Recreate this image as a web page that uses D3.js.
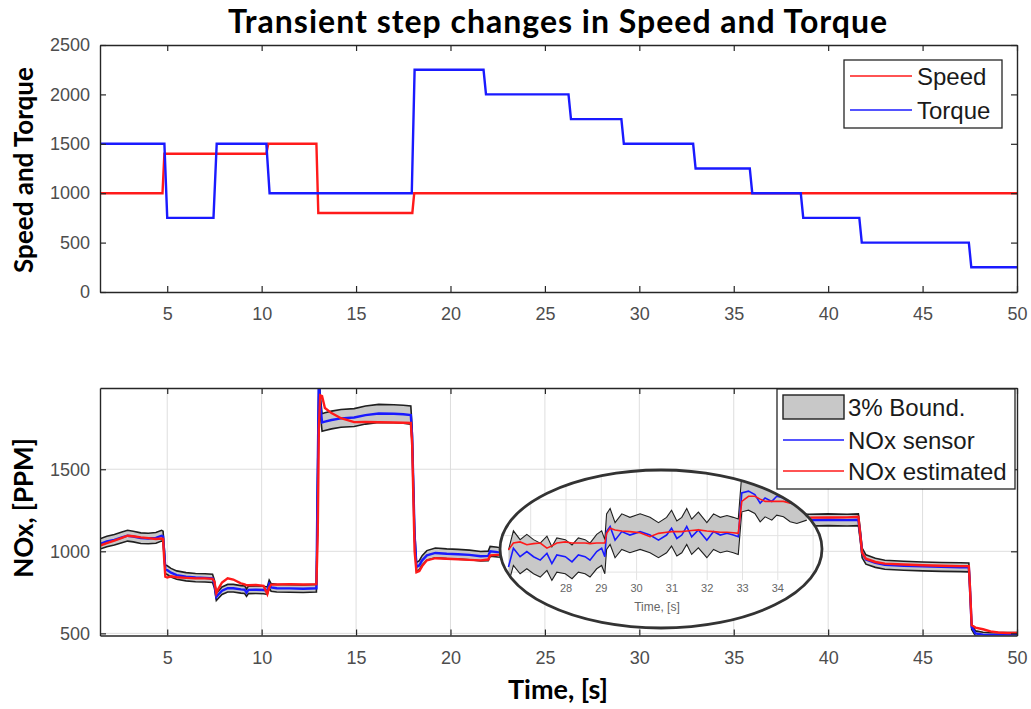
<!DOCTYPE html>
<html>
<head>
<meta charset="utf-8">
<script src="https://cdn.jsdelivr.net/npm/d3@7"></script>
<style>
  html, body { margin: 0; padding: 0; background: #fff; }
  svg { display: block; }
  .tick text { font-family: "Liberation Sans", Arial, sans-serif; fill: #4d4d4d; }
</style>
</head>
<body>
<svg id="chart" width="1031" height="709"></svg>
<script>
// ---- Speed / torque set points (breakpoints of the step profile) ----
const speedTime  = [1.44, 4.75, 4.85, 10.25, 10.35, 12.9, 13.0, 17.98, 18.08, 50];
const speedValue = [1000, 1000, 1400, 1400, 1500, 1500, 800, 800, 1000, 1000];

const torqueTime  = [1.44, 4.85, 5.0, 7.45, 7.62, 10.25, 10.42, 17.95, 18.1, 21.75, 21.88,
                     26.25, 26.38, 29.05, 29.18, 32.85, 32.98, 35.85, 35.98, 38.55, 38.68,
                     41.65, 41.78, 47.45, 47.58, 50];
const torqueValue = [1500, 1500, 750, 750, 1500, 1500, 1000, 1000, 2250, 2250, 2000,
                     2000, 1750, 1750, 1500, 1500, 1250, 1250, 1000, 1000, 750,
                     750, 500, 500, 250, 250];

// ---- NOx: sensor reading and model estimate [PPM] ----
const noxTime = [1.44, 1.8, 2.2, 2.6, 2.9, 3.2, 3.6, 4.0, 4.4, 4.7, 4.78, 4.85, 4.9, 5.0, 5.2, 5.5,
  6.0, 6.5, 7.0, 7.4, 7.5, 7.6, 7.7, 7.9, 8.2, 8.5, 8.9, 9.1, 9.2, 9.3, 9.7, 10.1, 10.3, 10.4,
  10.5, 10.8, 11.5, 12.2, 12.9, 12.97, 13.03, 13.1, 13.2, 13.35, 13.7, 14.2, 14.9, 15.5, 16.2,
  17.0, 17.5, 17.9, 17.97, 18.1, 18.2, 18.35, 18.5, 18.75, 19.2, 19.8, 20.4, 21.0, 21.6, 22.0,
  22.1, 22.5, 23.0, 24.0, 25.0, 26.0, 27.0, 28.0, 29.0, 29.15, 30.0, 31.0, 32.0, 32.9, 33.0,
  34.0, 35.0, 35.85, 36.0, 37.0, 38.0, 39.0, 40.0, 41.0, 41.6, 41.7, 41.8, 42.0, 42.5, 43.0,
  44.0, 45.0, 46.0, 47.0, 47.45, 47.5, 47.6, 47.8, 48.2, 48.6, 49.0, 49.5, 50];
const noxSensor = [1045, 1060, 1070, 1085, 1095, 1090, 1080, 1078, 1082, 1095, 1090, 980, 890, 885,
  870, 855, 845, 840, 838, 835, 800, 722, 735, 760, 775, 775, 768, 766, 748, 765, 766, 764, 760,
  800, 780, 775, 774, 772, 775, 1500, 2050, 1900, 1785, 1790, 1800, 1810, 1815, 1830, 1840, 1838,
  1835, 1830, 1700, 1100, 905, 915, 945, 975, 990, 985, 982, 978, 970, 972, 1000, 995, 992, 990,
  988, 985, 990, 985, 990, 1040, 1045, 1045, 1040, 1040, 1140, 1145, 1140, 1145, 1190, 1195,
  1192, 1190, 1192, 1190, 1192, 1100, 990, 950, 930, 918, 912, 908, 905, 903, 902, 800, 540,
  500, 492, 490, 490, 490, 490];
const noxEstimated = [1035, 1050, 1065, 1082, 1095, 1092, 1085, 1080, 1075, 1078, 1075, 930, 845,
  840, 848, 842, 838, 835, 835, 832, 815, 745, 770, 810, 835, 828, 805, 798, 793, 793, 795, 790,
  740, 780, 797, 798, 800, 798, 800, 1100, 1750, 1950, 1945, 1873, 1842, 1811, 1787, 1788, 1786,
  1785, 1783, 1782, 1650, 1000, 872, 880, 910, 945, 958, 955, 952, 948, 945, 950, 975, 978, 980,
  985, 990, 995, 1000, 1005, 1005, 1045, 1050, 1050, 1048, 1045, 1130, 1135, 1135, 1140, 1195,
  1200, 1202, 1205, 1206, 1207, 1210, 1100, 990, 955, 935, 925, 920, 915, 912, 910, 910, 800,
  550, 535, 525, 512, 505, 502, 503];
const boundFraction = 0.03;   // ±3 % band around the sensor

// ---- Close-up window 26.4 s – 34.8 s ----
const zoomTime = [26.37, 26.51, 26.7, 26.89, 27.08, 27.27, 27.46, 27.6, 27.74, 27.98, 28.17, 28.35,
  28.54, 28.68, 28.87, 29.01, 29.1, 29.15, 29.25, 29.39, 29.58, 29.81, 30.1, 30.38, 30.62, 30.85,
  30.99, 31.14, 31.28, 31.42, 31.56, 31.75, 31.99, 32.18, 32.37, 32.56, 32.74, 32.88, 32.98, 33.17,
  33.35, 33.5, 33.64, 33.83, 33.97, 34.16, 34.35, 34.54, 34.82];
const zoomSensor = [979, 1012, 997, 1006, 997, 991, 1003, 985, 1000, 997, 988, 1000, 997, 991, 1006,
  1012, 997, 1041, 1050, 1026, 1041, 1035, 1041, 1035, 1026, 1035, 1047, 1029, 1035, 1050, 1032,
  1044, 1026, 1041, 1035, 1038, 1035, 1032, 1109, 1112, 1106, 1091, 1100, 1094, 1103, 1100, 1091,
  1088, 1094];
const zoomEstimated = [1009, 1021, 1023, 1018, 1020, 1021, 1012, 1016, 1021, 1023, 1021, 1021, 1021,
  1020, 1021, 1021, 1021, 1038, 1047, 1044, 1042, 1041, 1039, 1032, 1038, 1040, 1041, 1041, 1041,
  1042, 1043, 1044, 1042, 1041, 1040, 1040, 1039, 1038, 1094, 1103, 1103, 1098, 1094, 1094, 1094,
  1094, 1091, 1091, 1091];
const zoomTicks = [28, 29, 30, 31, 32, 33, 34];
const zoomGridTime = [27, 28, 29, 30, 31, 32, 33, 34, 35];
const zoomGridPpm = [970, 1034, 1097];

// ---- Axis ticks ----
const timeTicks = [5, 10, 15, 20, 25, 30, 35, 40, 45, 50];
const speedTorqueTicks = [0, 500, 1000, 1500, 2000, 2500];
const noxTicks = [500, 1000, 1500];

const svg = d3.select("#chart");
const axisColor = "#262626";
const sans = '"Liberation Sans", Arial, sans-serif';
const labelFont = 'Lato, "Open Sans", sans-serif';
const fmt = d3.format("d");

// layout of the two panels
const left = 100, right = 1017;
const top1 = 45, bottom1 = 292;
const top2 = 388, bottom2 = 635.5;

const x = d3.scaleLinear().domain([1.44, 50]).range([left, right]);
const y1 = d3.scaleLinear().domain([0, 2500]).range([bottom1, top1]);
const y2 = d3.scaleLinear().domain([487, 1995]).range([bottom2, top2]);

function styleAxis(g, fontSize) {
  g.select(".domain").attr("stroke", axisColor).attr("stroke-width", 1.4);
  g.selectAll(".tick line").attr("stroke", axisColor).attr("stroke-width", 1.2);
  g.selectAll(".tick text").attr("font-size", fontSize).attr("font-family", sans);
}

// ================= Panel 1: speed and torque =================
const p1 = svg.append("g");
p1.append("defs").append("clipPath").attr("id", "clip1")
  .append("rect").attr("x", left).attr("y", top1).attr("width", right - left).attr("height", bottom1 - top1);

const lineGen = (xs, ys, yScale) => d3.line()
  .x((d, i) => x(xs[i])).y((d, i) => yScale(ys[i]))(xs);

const plot1 = p1.append("g").attr("clip-path", "url(#clip1)");
plot1.append("path").attr("d", lineGen(speedTime, speedValue, y1))
  .attr("fill", "none").attr("stroke", "#ff1a1a").attr("stroke-width", 2.4);
plot1.append("path").attr("d", lineGen(torqueTime, torqueValue, y1))
  .attr("fill", "none").attr("stroke", "#1a1aff").attr("stroke-width", 2.4);

// box with inward ticks
p1.append("g").attr("transform", `translate(0,${bottom1})`)
  .call(d3.axisBottom(x).tickValues(timeTicks).tickFormat(fmt).tickSize(-6).tickPadding(15).tickSizeOuter(0))
  .call(g => styleAxis(g, 18));
p1.append("g").attr("transform", `translate(0,${top1})`)
  .call(d3.axisTop(x).tickValues(timeTicks).tickSize(-6).tickFormat("").tickSizeOuter(0))
  .call(g => styleAxis(g, 18));
p1.append("g").attr("transform", `translate(${left},0)`)
  .call(d3.axisLeft(y1).tickValues(speedTorqueTicks).tickFormat(fmt).tickSize(-6).tickPadding(10).tickSizeOuter(0))
  .call(g => styleAxis(g, 18));
p1.append("g").attr("transform", `translate(${right},0)`)
  .call(d3.axisRight(y1).tickValues(speedTorqueTicks).tickSize(-6).tickFormat("").tickSizeOuter(0))
  .call(g => styleAxis(g, 18));

// legend
const leg1 = p1.append("g").attr("transform", "translate(844,60)");
leg1.append("rect").attr("width", 158).attr("height", 68)
  .attr("fill", "#fff").attr("stroke", axisColor).attr("stroke-width", 1.3);
[["Speed", "#ff1a1a", 16], ["Torque", "#1a1aff", 50]].forEach(([name, col, yy]) => {
  leg1.append("line").attr("x1", 6).attr("x2", 68).attr("y1", yy).attr("y2", yy)
    .attr("stroke", col).attr("stroke-width", 1.6);
  leg1.append("text").attr("x", 73).attr("y", yy + 9).text(name)
    .attr("font-family", sans).attr("font-size", 24).attr("fill", "#1a1a1a");
});

// ================= Panel 2: NOx =================
const p2 = svg.append("g");
p2.append("defs").append("clipPath").attr("id", "clip2")
  .append("rect").attr("x", left).attr("y", top2).attr("width", right - left).attr("height", bottom2 - top2);

// grid
const grid = p2.append("g");
timeTicks.filter(t => t < 50).forEach(t => grid.append("line")
  .attr("x1", x(t)).attr("x2", x(t)).attr("y1", top2).attr("y2", bottom2)
  .attr("stroke", "#dedede").attr("stroke-width", 1));
noxTicks.forEach(v => grid.append("line")
  .attr("x1", left).attr("x2", right).attr("y1", y2(v)).attr("y2", y2(v))
  .attr("stroke", "#dedede").attr("stroke-width", 1));

function drawNox(g, xs, sensor, est, xScale, yScale, w) {
  const upper = sensor.map(v => v * (1 + boundFraction));
  const lower = sensor.map(v => v * (1 - boundFraction));
  const area = d3.area()
    .x((d, i) => xScale(xs[i])).y0((d, i) => yScale(lower[i])).y1((d, i) => yScale(upper[i]));
  const ln = arr => d3.line().x((d, i) => xScale(xs[i])).y((d, i) => yScale(arr[i]))(xs);
  g.append("path").attr("d", area(xs)).attr("fill", "#c8c8c8");
  g.append("path").attr("d", ln(upper)).attr("fill", "none").attr("stroke", "#1f1f1f").attr("stroke-width", w.edge);
  g.append("path").attr("d", ln(lower)).attr("fill", "none").attr("stroke", "#1f1f1f").attr("stroke-width", w.edge);
  g.append("path").attr("d", ln(sensor)).attr("fill", "none").attr("stroke", "#1a1aff").attr("stroke-width", w.line);
  g.append("path").attr("d", ln(est)).attr("fill", "none").attr("stroke", "#ff1a1a").attr("stroke-width", w.line);
}

const plot2 = p2.append("g").attr("clip-path", "url(#clip2)");
drawNox(plot2, noxTime, noxSensor, noxEstimated, x, y2, { edge: 1.6, line: 2.4 });

p2.append("g").attr("transform", `translate(0,${bottom2})`)
  .call(d3.axisBottom(x).tickValues(timeTicks).tickFormat(fmt).tickSize(-6).tickPadding(16).tickSizeOuter(0))
  .call(g => styleAxis(g, 18));
p2.append("g").attr("transform", `translate(0,${top2})`)
  .call(d3.axisTop(x).tickValues(timeTicks).tickSize(-6).tickFormat("").tickSizeOuter(0))
  .call(g => styleAxis(g, 18));
p2.append("g").attr("transform", `translate(${left},0)`)
  .call(d3.axisLeft(y2).tickValues(noxTicks).tickFormat(fmt).tickSize(-6).tickPadding(10).tickSizeOuter(0))
  .call(g => styleAxis(g, 18));
p2.append("g").attr("transform", `translate(${right},0)`)
  .call(d3.axisRight(y2).tickValues(noxTicks).tickSize(-6).tickFormat("").tickSizeOuter(0))
  .call(g => styleAxis(g, 18));

// ---- elliptical close-up of 26–35 s ----
const ell = { cx: 661, cy: 549, rx: 161, ry: 79 };
const zx = d3.scaleLinear().domain([28, 34]).range([566, 777.8]);
const zy = d3.scaleLinear().domain([1000, 1100]).range([555, 498]);

p2.append("defs").append("clipPath").attr("id", "clipZoom")
  .append("ellipse").attr("cx", ell.cx).attr("cy", ell.cy).attr("rx", ell.rx).attr("ry", ell.ry);
const zg = p2.append("g").attr("clip-path", "url(#clipZoom)");
zg.append("rect").attr("x", ell.cx - ell.rx).attr("y", ell.cy - ell.ry)
  .attr("width", 2 * ell.rx).attr("height", 2 * ell.ry).attr("fill", "#fff");
zoomGridTime.forEach(t => zg.append("line").attr("x1", zx(t)).attr("x2", zx(t))
  .attr("y1", ell.cy - ell.ry).attr("y2", 580).attr("stroke", "#e3e3e3"));
zoomGridPpm.forEach(v => zg.append("line").attr("x1", ell.cx - ell.rx).attr("x2", ell.cx + ell.rx)
  .attr("y1", zy(v)).attr("y2", zy(v)).attr("stroke", "#e3e3e3"));
zoomTicks.forEach(t => zg.append("text").attr("x", zx(t)).attr("y", 592).text(t)
  .attr("text-anchor", "middle").attr("font-family", sans).attr("font-size", 11).attr("fill", "#666"));
zg.append("text").attr("x", 657).attr("y", 611).text("Time, [s]")
  .attr("text-anchor", "middle").attr("font-family", sans).attr("font-size", 12).attr("fill", "#666");
drawNox(zg, zoomTime, zoomSensor, zoomEstimated, zx, zy, { edge: 1.1, line: 1.6 });
p2.append("ellipse").attr("cx", ell.cx).attr("cy", ell.cy).attr("rx", ell.rx).attr("ry", ell.ry)
  .attr("fill", "none").attr("stroke", "#333").attr("stroke-width", 2.8);

// legend
const leg2 = p2.append("g").attr("transform", "translate(777,389)");
leg2.append("rect").attr("width", 238).attr("height", 100)
  .attr("fill", "#fff").attr("stroke", axisColor).attr("stroke-width", 1.3);
leg2.append("rect").attr("x", 6).attr("y", 6).attr("width", 61).attr("height", 24)
  .attr("fill", "#c8c8c8").attr("stroke", "#1f1f1f").attr("stroke-width", 1.4);
leg2.append("text").attr("x", 71).attr("y", 27).text("3% Bound.")
  .attr("font-family", sans).attr("font-size", 24).attr("fill", "#1a1a1a");
[["NOx sensor", "#1a1aff", 51], ["NOx estimated", "#ff1a1a", 82]].forEach(([name, col, yy]) => {
  leg2.append("line").attr("x1", 6).attr("x2", 67).attr("y1", yy).attr("y2", yy)
    .attr("stroke", col).attr("stroke-width", 1.6);
  leg2.append("text").attr("x", 71).attr("y", yy + 9).text(name)
    .attr("font-family", sans).attr("font-size", 24).attr("fill", "#1a1a1a");
});

// ================= Titles =================
svg.append("text").attr("x", 558).attr("y", 33).text("Transient step changes in Speed and Torque")
  .attr("text-anchor", "middle").attr("font-family", labelFont).attr("font-weight", "bold")
  .attr("font-size", 32).attr("letter-spacing", 1).attr("fill", "#000");
svg.append("text").attr("transform", `translate(33,170) rotate(-90)`).text("Speed and Torque")
  .attr("text-anchor", "middle").attr("font-family", labelFont).attr("font-weight", "bold")
  .attr("font-size", 26).attr("fill", "#000");
svg.append("text").attr("transform", `translate(33,508) rotate(-90)`).text("NOx, [PPM]")
  .attr("text-anchor", "middle").attr("font-family", labelFont).attr("font-weight", "bold")
  .attr("font-size", 26).attr("fill", "#000");
svg.append("text").attr("x", 558).attr("y", 699).text("Time, [s]")
  .attr("text-anchor", "middle").attr("font-family", labelFont).attr("font-weight", "bold")
  .attr("font-size", 27).attr("fill", "#000");
</script>
</body>
</html>
